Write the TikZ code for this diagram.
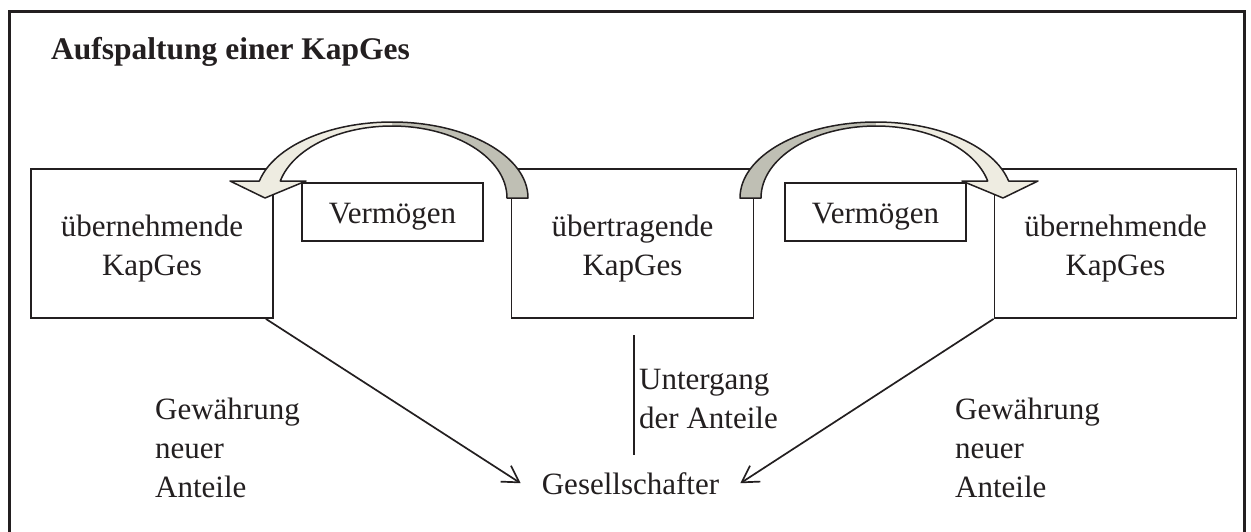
\documentclass[tikz,border=0pt]{standalone}
\usepackage{fontspec}
\setmainfont{Liberation Serif}
\usetikzlibrary{arrows.meta}
\definecolor{ink}{HTML}{231F20}
\definecolor{lightband}{HTML}{EEECE1}
\definecolor{darkband}{HTML}{BFBFB4}
\begin{document}
\begin{tikzpicture}[x=1pt,y=-1pt,
  kapbox/.style={draw=ink, line width=1.8pt, minimum width=242pt, minimum height=149pt, inner sep=0pt},
  vbox/.style={draw=ink, line width=1.8pt, minimum width=181pt, minimum height=58pt, inner sep=0pt},
  txt/.style={font=\fontsize{31}{39}\selectfont, text=ink, inner sep=0pt},
  conn/.style={draw=ink, line width=1.7pt, -{Straight Barb[length=16pt,width=19pt,line width=1.7pt]}},
  plainline/.style={draw=ink, line width=1.8pt},
  bandoutline/.style={draw=ink, line width=1.5pt, line join=round}]
\useasboundingbox (0,0) rectangle (1251,531);
\fill[white] (0,0) rectangle (1251,531);
% frame
\draw[ink, line width=3pt] (9,11) rectangle (1244,560);
% title
\node[anchor=base west, font=\bfseries\fontsize{31.5}{38}\selectfont, text=ink, inner sep=0pt] (title) at (51,59) {Aufspaltung einer KapGes};
% boxes
\node[kapbox] (L) at (152,243.5) {};
\node[kapbox] (C) at (632.5,243.5) {};
\node[kapbox] (R) at (1115.5,243.5) {};
\node[txt, align=center, anchor=base] (Lt) at (152,275) {übernehmende\\KapGes};
\node[txt, align=center, anchor=base] (Ct) at (632.5,275) {übertragende\\KapGes};
\node[txt, align=center, anchor=base] (Rt) at (1115.5,275) {übernehmende\\KapGes};
\node[vbox] (VL) at (392.5,212) {};
\node[vbox] (VR) at (875.5,212) {};
\node[txt, anchor=base] (VLt) at (392.5,223) {Vermögen};
\node[txt, anchor=base] (VRt) at (875.5,223) {Vermögen};
% left curved arrow
\fill[darkband] (392,122) .. controls (467.1,122) and (528,156) .. (528,198)
  -- (507,198) .. controls (507,158.2) and (455.5,126) .. (392,126) -- cycle;
\fill[lightband] (280.3,181) -- (306,181) -- (265,198) -- (230,181) -- (259.4,181)
  .. controls (273.6,146.5) and (328.6,122) .. (392,122) -- (392,126)
  .. controls (339,126) and (292.8,148.7) .. (280.3,181) -- cycle;
\path[bandoutline] (259.4,181) .. controls (273.6,146.5) and (328.6,122) .. (392,122)
  .. controls (467.1,122) and (528,156) .. (528,198) -- (507,198)
  .. controls (507,158.2) and (455.5,126) .. (392,126)
  .. controls (339,126) and (292.8,148.7) .. (280.3,181)
  -- (306,181) -- (265,198) -- (230,181) -- cycle;
% right curved arrow
\fill[darkband] (876,122) .. controls (800.9,122) and (740,156) .. (740,198)
  -- (761,198) .. controls (761,158.2) and (812.5,126) .. (876,126) -- cycle;
\fill[lightband] (987.7,181) -- (962,181) -- (1003,198) -- (1038,181) -- (1008.6,181)
  .. controls (994.4,146.5) and (939.4,122) .. (876,122) -- (876,126)
  .. controls (929,126) and (975.2,148.7) .. (987.7,181) -- cycle;
\path[bandoutline] (1008.6,181) .. controls (994.4,146.5) and (939.4,122) .. (876,122)
  .. controls (800.9,122) and (740,156) .. (740,198) -- (761,198)
  .. controls (761,158.2) and (812.5,126) .. (876,126)
  .. controls (929,126) and (975.2,148.7) .. (987.7,181)
  -- (962,181) -- (1003,198) -- (1038,181) -- cycle;
% bottom part
\node[txt, anchor=base, inner xsep=21pt] (G) at (630.5,494) {Gesellschafter};
\draw[conn] ([xshift=-8pt]L.south east) -- (G.west);
\draw[conn] (R.south west) -- (G.east);
\coordinate (u1) at (634,335);
\coordinate (u2) at (634,455);
\draw[plainline] (u1) -- (u2);
\node[txt, align=left, anchor=base west] (unt) at (639,428) {Untergang\\der Anteile};
\node[txt, align=left, anchor=base west] (gl) at (155,497) {Gewährung\\neuer\\Anteile};
\node[txt, align=left, anchor=base west] (gr) at (955,497) {Gewährung\\neuer\\Anteile};
\end{tikzpicture}
\end{document}
